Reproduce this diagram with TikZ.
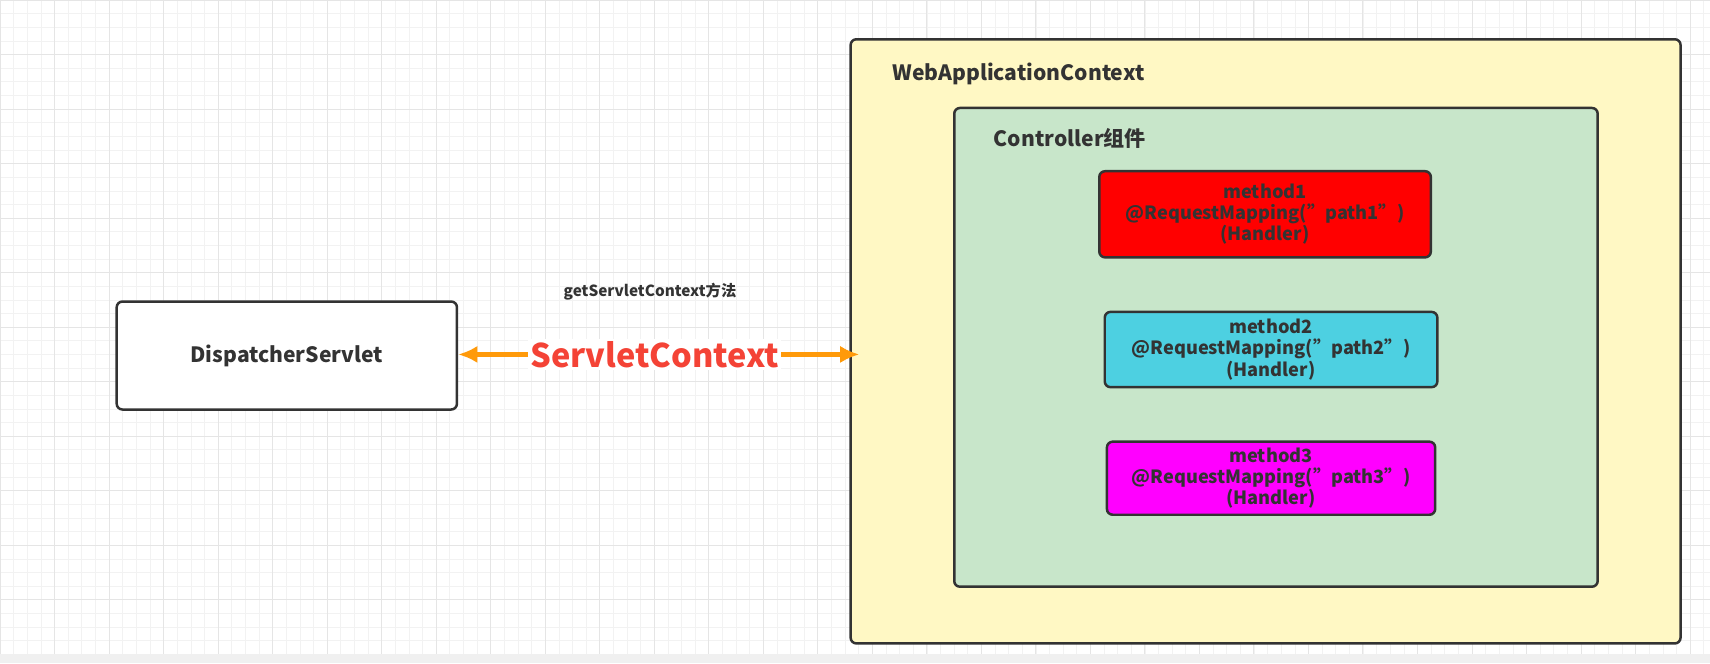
\documentclass[tikz,border=0pt]{standalone}
\usepackage{fontspec}
\setmainfont{Noto Sans CJK SC}
\usetikzlibrary{positioning,arrows.meta}
\definecolor{ctxyellow}{HTML}{FFF8C4}
\definecolor{ctlgreen}{HTML}{C8E6CA}
\definecolor{handcyan}{HTML}{4DD0E1}
\definecolor{handmagenta}{HTML}{FF00FF}
\definecolor{arrorange}{HTML}{FF9A0A}
\definecolor{edgegray}{HTML}{333333}
\definecolor{txtred}{HTML}{F44336}
\newcommand{\qt}{\symbol{"22}}
\tikzset{
  box/.style={draw=edgegray, line width=1.3pt, rounded corners=3pt},
  handler/.style={box, inner sep=0pt, align=center, font=\bfseries\fontsize{9.5}{11}\selectfont, text=edgegray},
  title/.style={anchor=west, font=\bfseries\fontsize{11}{13}\selectfont, text=edgegray}
}
\begin{document}
\begin{tikzpicture}[x=0.02cm,y=-0.02cm]
\useasboundingbox (0,0) rectangle (1568,608);
% grid
\draw[gray!10, line width=0.3pt, step=0.25cm] (0,0) grid (1568,600);
\draw[gray!20, line width=0.5pt, step=1cm] (0,0) grid (1568,600);
\fill[gray!12] (0,600) rectangle (1568,608);

\node[box, fill=white, minimum width=312*0.02cm, minimum height=99*0.02cm,
  font=\bfseries\fontsize{11}{13}\selectfont, text=edgegray] (DS) at (263,326) {DispatcherServlet};

\node[box, fill=ctxyellow, minimum width=761*0.02cm, minimum height=554*0.02cm] (WAC) at (1160.5,313) {};
\node[title] (WACT) at (812,68) {WebApplicationContext};

\node[box, fill=ctlgreen, minimum width=590*0.02cm, minimum height=439*0.02cm] (CTL) at (1170,318.5) {};
\node[title] (CTLT) at (905,127) {Controller组件};

\node[handler, fill=red, minimum width=304*0.02cm, minimum height=79*0.02cm] (M1) at (1160,196.5)
  {method1\\@RequestMapping(\qt path1\qt)\\(Handler)};
\node[handler, fill=handcyan, minimum width=305*0.02cm, minimum height=69*0.02cm] (M2) at (1165.5,320.5)
  {method2\\@RequestMapping(\qt path2\qt)\\(Handler)};
\node[handler, fill=handmagenta, minimum width=301*0.02cm, minimum height=67*0.02cm] (M3) at (1165.5,438.5)
  {method3\\@RequestMapping(\qt path3\qt)\\(Handler)};

\coordinate (WACin) at (788,325);
\draw[arrorange, line width=2.5pt, <->, >={Latex[length=10pt,width=9pt]}] (DS.east |- WACin) -- (WACin)
  node[pos=0.49, fill=white, inner sep=1pt, text=txtred, font=\bfseries\fontsize{17}{20}\selectfont] (SC) {ServletContext};
\node[font=\bfseries\fontsize{8}{10}\selectfont, text=edgegray] (GSC) at (596,267) {getServletContext方法};
\end{tikzpicture}
\end{document}
